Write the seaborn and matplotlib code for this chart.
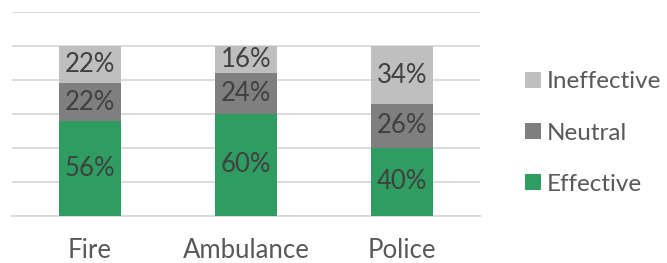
import matplotlib
matplotlib.use("Agg")
import matplotlib.pyplot as plt
import seaborn as sns
import pandas as pd
import numpy as np
from matplotlib.lines import Line2D

categories = ["Fire", "Ambulance", "Police"]
effective = [56, 60, 40]
neutral = [22, 24, 26]
ineffective = [22, 16, 34]
series_names = ["Ineffective", "Neutral", "Effective"]
yticks = [0, 20, 40, 60, 80, 100, 120]

c_eff = "#2F9C62"
c_neu = "#7F7F7F"
c_ine = "#BFBFBF"

sns.set_theme(style="white")
plt.rcParams["font.family"] = ["Lato", "DejaVu Sans"]

fig = plt.figure(figsize=(6.67, 2.63), dpi=100)
ax = fig.add_axes([12/667, 1 - 215.7/263, (480-12)/667, (215.7-12.3)/263])

df = pd.DataFrame({"cat": categories, "eff": effective, "neu": neutral, "ine": ineffective})
df["total"] = df["eff"] + df["neu"] + df["ine"]
df["en"] = df["eff"] + df["neu"]

for col, color in [("total", c_ine), ("en", c_neu), ("eff", c_eff)]:
    sns.barplot(data=df, x="cat", y=col, color=color, width=0.4, ax=ax,
                saturation=1, order=categories, zorder=3, linewidth=0)

fs = 18.5
for i in range(len(categories)):
    segs = [(0, effective[i]), (effective[i], neutral[i]),
            (effective[i] + neutral[i], ineffective[i])]
    for b, h in segs:
        ax.text(i, b + h / 2, f"{h}%", ha="center", va="center",
                fontsize=fs, color="#404040", zorder=5)

ax.set_ylim(0, 120)
ax.set_xlim(-0.5, 2.5)
ax.set_yticks(yticks)
ax.yaxis.grid(True, color="#D9D9D9", linewidth=1.3, zorder=0)
ax.set_axisbelow(True)
ax.set_yticklabels([])
ax.tick_params(axis="y", length=0)
ax.tick_params(axis="x", length=0, labelsize=fs, labelcolor="#595959", pad=16)
ax.set_xlabel("")
ax.set_ylabel("")
for s in ["top", "right", "left"]:
    ax.spines[s].set_visible(False)
ax.spines["bottom"].set_color("#D9D9D9")
ax.spines["bottom"].set_linewidth(1.3)

handles = [Line2D([], [], marker="s", linestyle="none", markersize=11,
                  markerfacecolor=c, markeredgewidth=0)
           for c in [c_ine, c_neu, c_eff]]
leg = fig.legend(handles, series_names, loc="center left",
                 bbox_to_anchor=(515/667, 1 - 133/263), frameon=False,
                 fontsize=17.5, labelcolor="#595959", handlelength=0.7,
                 handletextpad=0.2, labelspacing=1.25, borderaxespad=0)

fig.savefig("out.png", dpi=100)
